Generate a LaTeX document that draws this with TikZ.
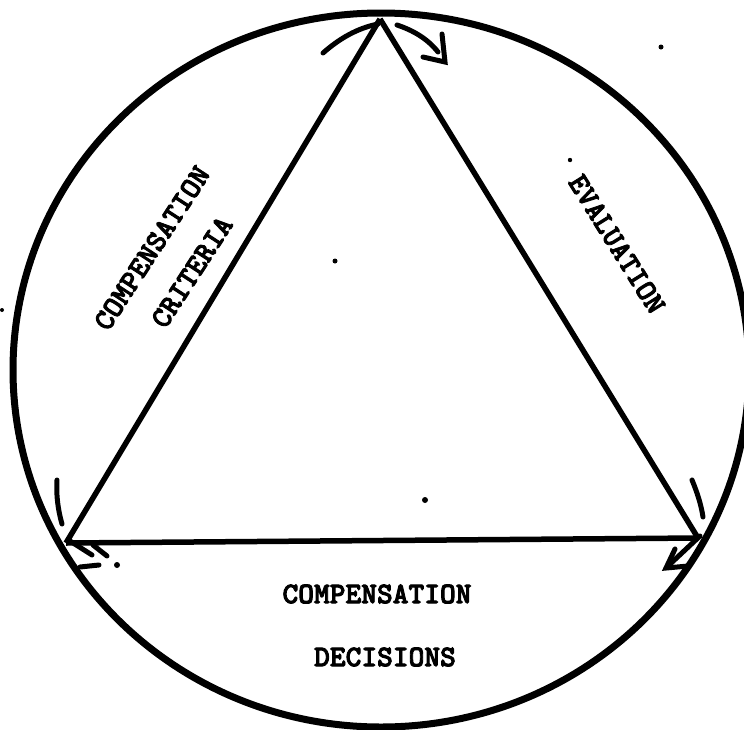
\documentclass[tikz,border=0pt]{standalone}
\usepackage{fontspec}
\newfontfamily\typew[FakeBold=3]{lmmonolt10-bold.otf}
\begin{document}
\begin{tikzpicture}[x=1pt,y=-1pt,
  ring/.style={line width=7pt},
  side/.style={line width=5.5pt},
  flow/.style={line width=5pt,line cap=round},
  label/.style={font=\fontsize{30}{40}\selectfont\typew,inner sep=0pt},
  speck/.style={fill=black,draw=none}]
\useasboundingbox (0,0) rectangle (744,729);
% outer circle
\draw[ring] (381,370) ellipse [x radius=368, y radius=357];
% triangle vertices
\coordinate (T) at (380,19);
\coordinate (L) at (66,543);
\coordinate (R) at (698,538);
\draw[side] (T) -- (L);
\draw[side] (L) -- (R);
\draw[side] (R) -- (T);
% flow marks at top vertex
\draw[flow] (323,53) .. controls (340,38) and (358,28) .. (378,24);
\draw[flow] (397,25) .. controls (412,30) and (427,38) .. (438,52);
\draw[flow] (442,34) -- (445,62) -- (423,57);
% flow marks at bottom-right vertex
\draw[flow] (692,480) .. controls (697,492) and (701,504) .. (703,517);
\draw[flow] (700,536) -- (668,566);
\draw[flow] (675,549) -- (666,568) -- (688,566);
% flow marks at bottom-left vertex
\draw[flow] (57,480) .. controls (56,495) and (58,510) .. (62,524);
\draw[flow] (70,541) -- (92,555);
\draw[flow] (93,545) -- (107,556);
\draw[flow] (80,567) -- (99,565);
% labels
\node[label,rotate=57] (crit1) at (152,248) {COMPENSATION};
\node[label,rotate=57] (crit2) at (192,272) {CRITERIA};
\node[label,rotate=-58] (eval) at (617,244) {EVALUATION};
\node[label] (dec1) at (377,594) {COMPENSATION};
\node[label] (dec2) at (385,657) {DECISIONS};
% specks
\fill[speck] (661,47) circle (2.5);
\fill[speck] (335,261) circle (2.5);
\fill[speck] (425,500) circle (3);
\fill[speck] (570,160) circle (2.2);
\fill[speck] (2,310) circle (2);
\fill[speck] (117,565) circle (3);
\end{tikzpicture}
\end{document}
